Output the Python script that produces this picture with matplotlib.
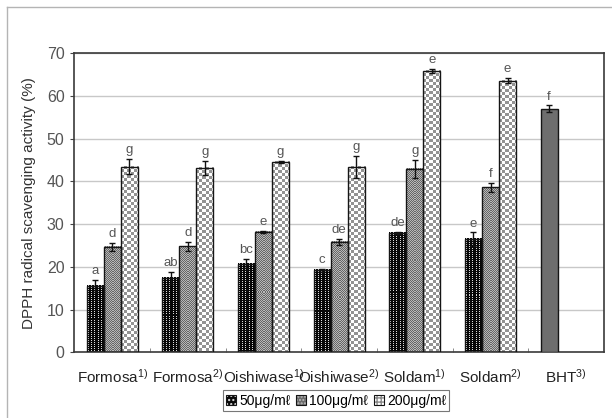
import numpy as np
import matplotlib
matplotlib.use("Agg")
import matplotlib.pyplot as plt
from matplotlib.patches import Patch
from matplotlib.lines import Line2D
from matplotlib.legend_handler import HandlerTuple

plt.rcParams['font.family'] = ['Liberation Sans', 'DejaVu Sans']
plt.rcParams['mathtext.fontset'] = 'custom'
plt.rcParams['mathtext.rm'] = 'Liberation Sans'
plt.rcParams['mathtext.default'] = 'regular'

categories = ['Formosa$^{1)}$', 'Formosa$^{2)}$', 'Oishiwase$^{1)}$',
              'Oishiwase$^{2)}$', 'Soldam$^{1)}$', 'Soldam$^{2)}$', 'BHT$^{3)}$']
series = ['50μg/mℓ', '100μg/mℓ', '200μg/mℓ']

# DPPH scavenging (%) for the six samples
val_50 = [15.5, 17.4, 20.8, 19.2, 27.9, 26.5]
err_50 = [1.4, 1.5, 1.0, 0.3, 0.3, 1.6]
sig_50 = ['a', 'ab', 'bc', 'c', 'de', 'e']

val_100 = [24.7, 24.8, 28.2, 25.8, 42.9, 38.6]
err_100 = [1.0, 1.1, 0.3, 0.7, 2.1, 1.1]
sig_100 = ['d', 'd', 'e', 'de', 'g', 'f']

val_200 = [43.5, 43.1, 44.6, 43.3, 65.9, 63.6]
err_200 = [1.8, 1.7, 0.3, 2.6, 0.5, 0.6]
sig_200 = ['g', 'g', 'g', 'g', 'e', 'e']

# reference antioxidant
val_bht = 57.0
err_bht = 0.8
sig_bht = 'f'

fig = plt.figure(figsize=(6.12, 4.18), dpi=100)
ax = fig.add_axes([0.1214, 0.157, 0.8656, 0.7155])

pos = ax.get_position()
px_x = pos.width * fig.get_figwidth() * fig.dpi / 7.0
px_y = pos.height * fig.get_figheight() * fig.dpi / 70.0

width = 0.225


def texture(kind, nrows, ncols):
    i, j = np.indices((nrows, ncols))
    if kind == 0:
        return np.where((i % 2 == 0) & (j % 3 == 1), 0.85, 0.03)
    if kind == 1:
        return np.where((i + j) % 2 == 0, 0.72, 0.40)
    return np.where(((i // 3) + (j // 3)) % 2 == 0, 1.0, 0.58)


def textured_bar(x, h, kind):
    bar = ax.bar(x, h, width, facecolor='none', edgecolor='#151515',
                 linewidth=1.0, zorder=3)[0]
    nrows = max(int(round(h * px_y)), 1)
    ncols = max(int(round(width * px_x)), 1)
    ax.imshow(texture(kind, nrows, ncols), cmap='gray', vmin=0, vmax=1,
              extent=(x - width / 2, x + width / 2, 0, h), aspect='auto',
              interpolation='nearest', zorder=2, clip_path=bar)


def label(x, top, text):
    ax.annotate(text, (x, top), xytext=(0, 2), textcoords='offset points',
                ha='center', va='bottom', fontsize=9.5, color='#555555')


xs = np.arange(len(val_50))
for kind, (vals, errs, sigs) in enumerate([(val_50, err_50, sig_50),
                                           (val_100, err_100, sig_100),
                                           (val_200, err_200, sig_200)]):
    off = (kind - 1) * width
    for x, v, e, s in zip(xs, vals, errs, sigs):
        textured_bar(x + off, v, kind)
        label(x + off, v + e, s)
    ax.errorbar(xs + off, vals, yerr=errs, fmt='none', ecolor='#111111',
                elinewidth=1.0, capsize=2.3, capthick=1.0, zorder=4)

# BHT sits in the first slot of its group
bx = 6 - width
ax.bar(bx, val_bht, width, color='#6e6e6e', edgecolor='#151515',
       linewidth=1.0, zorder=3)
ax.errorbar([bx], [val_bht], yerr=[err_bht], fmt='none', ecolor='#111111',
            elinewidth=1.0, capsize=2.3, capthick=1.0, zorder=4)
label(bx, val_bht + err_bht, sig_bht)

ax.set_xlim(-0.5, 6.5)
ax.set_ylim(0, 70)
ax.set_yticks(range(0, 71, 10))
ax.yaxis.grid(True, color='#c8c8c8', linewidth=1.0)
ax.set_axisbelow(True)
ax.tick_params(axis='y', labelsize=11.5, labelcolor='#555555', length=3,
               color='#444444', pad=4)

ax.set_xticks(range(7))
ax.set_xticklabels(categories)
ax.set_xticks(np.arange(0.5, 6, 1), minor=True)
ax.tick_params(axis='x', which='major', length=0, labelsize=11,
               labelcolor='#222222', pad=11)
ax.tick_params(axis='x', which='minor', direction='in', length=3,
               color='#777777')

for sp in ax.spines.values():
    sp.set_color('#3a3a3a')
    sp.set_linewidth(1.2)

ax.set_ylabel('DPPH radical scavenging activity (%)', fontsize=11,
              color='#333333', labelpad=8)

# legend swatches: pattern plus a dark outline
handles = [
    (Patch(facecolor='#080808', edgecolor='#dddddd', hatch='....', linewidth=0),
     Patch(fill=False, edgecolor='#151515', linewidth=0.8)),
    (Patch(facecolor='#6a6a6a', edgecolor='#bbbbbb', hatch='.....', linewidth=0),
     Patch(fill=False, edgecolor='#151515', linewidth=0.8)),
    (Patch(facecolor='white', edgecolor='#8a8a8a', hatch='++++', linewidth=0),
     Patch(fill=False, edgecolor='#151515', linewidth=0.8)),
]
leg = fig.legend(handles, series, loc='center', ncol=3,
                 bbox_to_anchor=(0.549, 0.041), bbox_transform=fig.transFigure,
                 handler_map={tuple: HandlerTuple(ndivide=1)},
                 fontsize=10, frameon=True, fancybox=False,
                 handlelength=0.75, handleheight=0.75, handletextpad=0.2,
                 columnspacing=0.4, borderpad=0.25, borderaxespad=0)
leg.get_frame().set_edgecolor('#555555')
leg.get_frame().set_linewidth(0.8)

# thin frame along the top and left of the figure
fig.add_artist(Line2D([7 / 612, 1], [1 - 7 / 418, 1 - 7 / 418],
                      transform=fig.transFigure, color='#b4b4b4', linewidth=1))
fig.add_artist(Line2D([7 / 612, 7 / 612], [0, 1 - 7 / 418],
                      transform=fig.transFigure, color='#b4b4b4', linewidth=1))

fig.savefig('out.png', dpi=100)
